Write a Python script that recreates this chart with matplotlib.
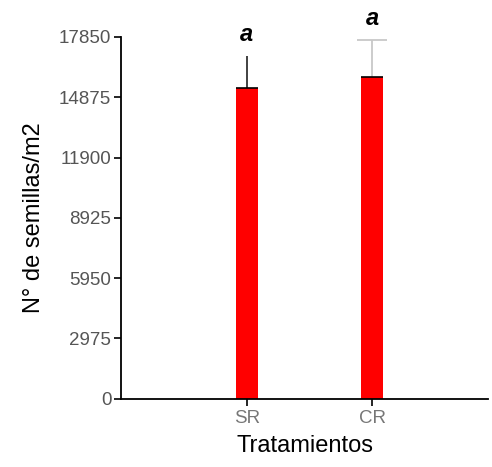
import matplotlib
matplotlib.use("Agg")
import matplotlib.pyplot as plt

tratamientos = ["SR", "CR"]
semillas = [15320, 15890]
error_sup = [1610, 1810]
letras = ["a", "a"]
yticks = [0, 2975, 5950, 8925, 11900, 14875, 17850]

plt.rcParams['font.family'] = ['Liberation Sans', 'DejaVu Sans']

fig = plt.figure(figsize=(4.92, 4.67), dpi=100)
ax = fig.add_axes([0.246, 0.146, 0.746, 0.775])

pos = [1, 2]
w = 0.175
ax.bar(pos, semillas, width=w, color='#ff0000', edgecolor='none', zorder=2)
ax.hlines(semillas, [p - w / 2 for p in pos], [p + w / 2 for p in pos],
          color='black', linewidth=1.2, zorder=3)

# error bars: SR dark without cap, CR light with cap (upper only)
ax.errorbar(pos[0], semillas[0], yerr=[[0], [error_sup[0]]], fmt='none',
            ecolor='#333333', elinewidth=1.3, capsize=0, zorder=1)
eb = ax.errorbar(pos[1], semillas[1], yerr=[[0], [error_sup[1]]], fmt='none',
                 ecolor='#c8c8c8', elinewidth=1.3, capsize=11, capthick=1.3, zorder=1)
eb[1][0].set_visible(False)

for p, v, e, l in zip(pos, semillas, error_sup, letras):
    ax.annotate(l, (p, v + e), xytext=(0, 7), textcoords='offset points',
                ha='center', va='bottom', fontsize=17, fontweight='bold',
                fontstyle='italic', annotation_clip=False)

ax.set_xlim(0.0, 2.92)
ax.set_ylim(0, 17850)
ax.set_yticks(yticks)
ax.set_yticklabels([str(t) for t in yticks])
ax.set_xticks(pos)
ax.set_xticklabels(tratamientos)

ax.spines['top'].set_visible(False)
ax.spines['right'].set_visible(False)
ax.spines['left'].set_linewidth(1.3)
ax.spines['bottom'].set_linewidth(1.3)
ax.tick_params(axis='y', direction='out', length=5, width=1.2,
               labelsize=13.5, labelcolor='#555555', pad=2)
ax.tick_params(axis='x', direction='out', length=5, width=1.2,
               labelsize=13.5, labelcolor='#777777', pad=3)

ax.set_ylabel("N° de semillas/m2", fontsize=17, labelpad=10)
ax.set_xlabel("Tratamientos", fontsize=17, labelpad=6)

fig.savefig("out.png", dpi=100)
